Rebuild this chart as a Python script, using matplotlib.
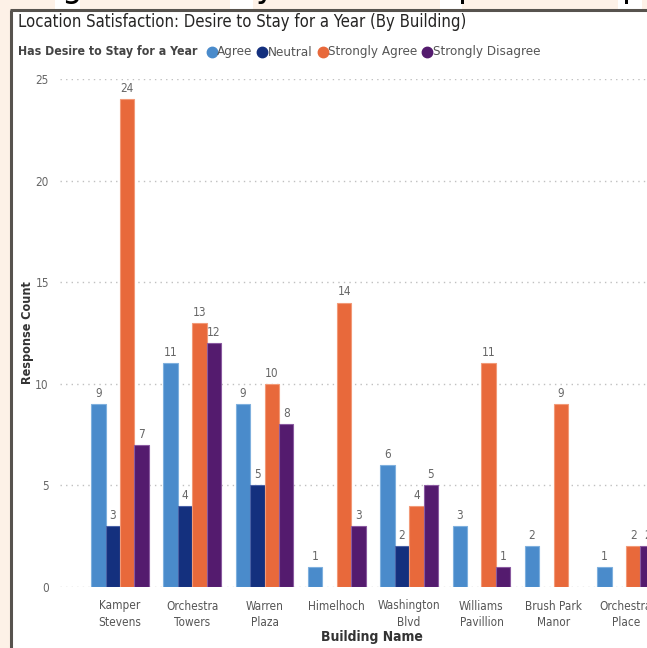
import matplotlib
matplotlib.use("Agg")
import matplotlib.pyplot as plt
import numpy as np
from matplotlib.patches import Rectangle
from matplotlib.lines import Line2D

# ---------------- data ----------------
buildings = ["Kamper\nStevens", "Orchestra\nTowers", "Warren\nPlaza", "Himelhoch",
             "Washington\nBlvd", "Williams\nPavillion", "Brush Park\nManor", "Orchestra\nPlace"]
series_names = ["Agree", "Neutral", "Strongly Agree", "Strongly Disagree"]
agree = [9, 11, 9, 1, 6, 3, 2, 1]
neutral = [3, 4, 5, None, 2, None, None, None]
strongly_agree = [24, 13, 10, 14, 4, 11, 9, 2]
strongly_disagree = [7, 12, 8, 3, 5, 1, None, 2]
series_values = [agree, neutral, strongly_agree, strongly_disagree]
colors = ["#4a8bcb", "#14307e", "#e8693b", "#541b6e"]
edge_colors = ["#7fb0de", "#4a62a6", "#f29a78", "#8a5aa0"]
yticks = [0, 5, 10, 15, 20, 25]

title = "Location Satisfaction: Desire to Stay for a Year (By Building)"
legend_title = "Has Desire to Stay for a Year"

plt.rcParams["font.family"] = ["DejaVu Sans"]
plt.rcParams["font.stretch"] = "condensed"

W, H = 647, 648
fig = plt.figure(figsize=(W / 100, H / 100), dpi=100)
fig.patch.set_facecolor("white")


def fx(x):
    return x / W


def fy(y):
    return 1 - y / H


# ------------- surrounding decoration -------------
peach = "#fdf1e7"
fig.add_artist(Rectangle((0, fy(10)), 1, 10 / H, transform=fig.transFigure,
                         facecolor=peach, edgecolor="none", zorder=0))
fig.add_artist(Rectangle((0, 0), fx(10), 1, transform=fig.transFigure,
                         facecolor=peach, edgecolor="none", zorder=0))
for x0, x1 in [(55, 80), (230, 253), (440, 462), (618, 642)]:
    fig.add_artist(Rectangle((fx(x0), fy(10)), (x1 - x0) / W, 10 / H,
                             transform=fig.transFigure, facecolor="white",
                             edgecolor="none", zorder=0.5))
for x, ch in [(61, "g"), (256, "y"), (458, "p"), (622, "p")]:
    fig.text(fx(x), 1 + 3 / H, ch, fontsize=26, color="black", va="baseline",
             ha="left", zorder=1)
border = "#57534e"
fig.add_artist(Line2D([fx(11), fx(11)], [0, fy(10)], color=border, lw=2.2,
                      transform=fig.transFigure, zorder=3, solid_capstyle="butt"))
fig.add_artist(Line2D([fx(10), 1], [fy(10), fy(10)], color=border, lw=2.2,
                      transform=fig.transFigure, zorder=3, solid_capstyle="butt"))

# ------------- title & legend -------------
fig.text(fx(18), fy(22), title, fontsize=12, color="#252423", va="center", ha="left")

renderer = fig.canvas.get_renderer()
t = fig.text(fx(18), fy(52), legend_title, fontsize=8.8, fontweight="bold",
             color="#444444", va="center", ha="left")
bb = t.get_window_extent(renderer)
xcur = bb.x1 + 14
for name, col in zip(series_names, colors):
    fig.add_artist(Line2D([xcur / W], [fy(52)], marker="o", markersize=7.5,
                          color=col, linestyle="none", transform=fig.transFigure))
    tt = fig.text((xcur + 5.5) / W, fy(52), name, fontsize=9.6, color="#555555",
                  va="center", ha="left")
    bb = tt.get_window_extent(renderer)
    xcur = bb.x1 + 10

# ------------- axes -------------
ax = fig.add_axes([fx(60), 61 / H, 1 - fx(60), 508 / H])
ax.set_facecolor("none")
n = len(buildings)
x = np.arange(n)
bw = 0.2
for k, (vals, col, ec) in enumerate(zip(series_values, colors, edge_colors)):
    xs = x + (k - 1.5) * bw
    for xi, v in zip(xs, vals):
        if v is None:
            continue
        ax.bar(xi, v, width=bw, color=col, edgecolor=ec, linewidth=0.8, zorder=3)
        ax.annotate(str(v), (xi, v), xytext=(0, 3), textcoords="offset points",
                    ha="center", va="bottom", fontsize=8.5, color="#666666", zorder=4,
                    annotation_clip=False)

ax.set_ylim(0, 25)
ax.set_xlim(-0.83, n - 1 + 21 / 72.36)
ax.set_yticks(yticks)
ax.set_yticklabels([str(v) for v in yticks], fontsize=8.5, color="#666666")
ax.set_xticks(x)
ax.set_xticklabels(buildings, fontsize=8.5, color="#555555", linespacing=1.3)
ax.tick_params(axis="both", length=0)
ax.tick_params(axis="y", pad=8)
ax.tick_params(axis="x", pad=9)
for s in ax.spines.values():
    s.set_visible(False)
ax.yaxis.grid(True, linestyle=(0, (1, 3)), color="#c0c0c0", linewidth=1, zorder=0)
ax.set_axisbelow(True)

fig.text(fx(27), fy(333), "Response Count", rotation=90, fontsize=9,
         fontweight="bold", color="#333333", ha="center", va="center")
fig.text(fx(372), fy(637), "Building Name", fontsize=10, fontweight="bold",
         color="#333333", ha="center", va="center")

fig.savefig("out.png", dpi=100, facecolor="white")
